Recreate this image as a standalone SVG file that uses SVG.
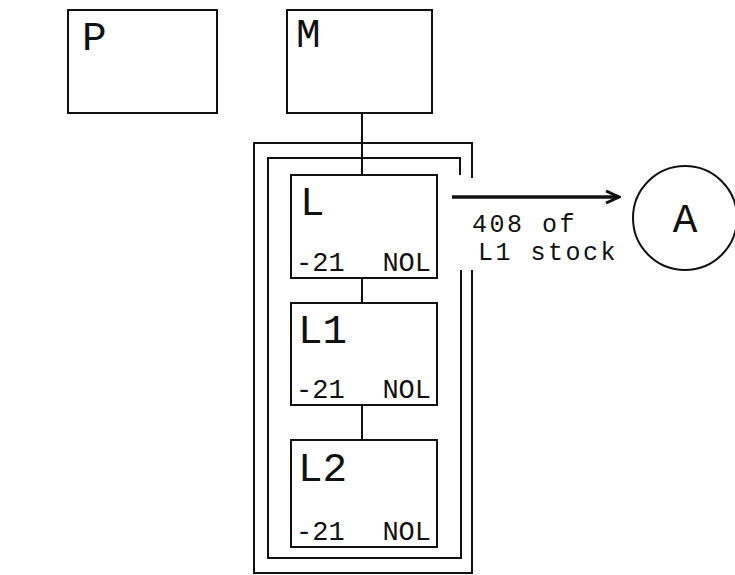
<svg xmlns="http://www.w3.org/2000/svg" width="735" height="575" viewBox="0 0 735 575">
<defs>
<style>
.box{fill:#fff;stroke:#111;stroke-width:2}
.ln{fill:none;stroke:#111;stroke-width:2}
.big{font-family:"Liberation Mono","Courier New",monospace;font-size:41px;fill:#111}
.sm{font-family:"Liberation Mono","Courier New",monospace;font-size:27px;fill:#111}
.lab{font-family:"Liberation Mono","Courier New",monospace;font-size:25px;letter-spacing:2.5px;fill:#111}
</style>
<marker id="ah" markerWidth="16" markerHeight="14" refX="14" refY="7" orient="auto" markerUnits="userSpaceOnUse">
<path d="M1,1 L14,7 L1,13" fill="none" stroke="#111" stroke-width="3"/>
</marker>
</defs>
<rect width="735" height="575" fill="#fff"/>
<g id="connectors">
<line class="ln" x1="362" y1="113" x2="362" y2="175"/>
<line class="ln" x1="362" y1="278" x2="362" y2="303"/>
<line class="ln" x1="362" y1="405" x2="362" y2="440"/>
<path class="ln" d="M472,178 V143 H254 V573 H472 V270"/>
<path class="ln" d="M460,175 V158 H268 V558 H461 V270"/>
<line class="ln" style="stroke-width:3.5" x1="452" y1="197" x2="619" y2="197" marker-end="url(#ah)"/>
</g>
<g id="P"><rect class="box" x="68" y="10" width="149" height="103"/><text class="big" x="82" y="50">P</text></g>
<g id="M"><rect class="box" x="287" y="10" width="145" height="103"/><text class="big" x="296" y="47">M</text></g>
<g id="L"><rect class="box" x="291" y="175" width="146" height="103"/><text class="big" x="300" y="215">L</text><text class="sm" x="296" y="271">-21</text><text class="sm" x="431" y="271" text-anchor="end">NOL</text></g>
<g id="L1"><rect class="box" x="291" y="303" width="146" height="102"/><text class="big" x="298" y="343">L1</text><text class="sm" x="296" y="398">-21</text><text class="sm" x="431" y="398" text-anchor="end">NOL</text></g>
<g id="L2"><rect class="box" x="291" y="440" width="146" height="107"/><text class="big" x="298" y="481">L2</text><text class="sm" x="296" y="540">-21</text><text class="sm" x="431" y="540" text-anchor="end">NOL</text></g>
<g id="label"><text class="lab" x="472" y="232">408 of</text><text class="lab" x="478" y="260">L1 stock</text></g>
<g id="A"><circle class="box" cx="685" cy="218" r="52"/><text class="big" x="685" y="232" text-anchor="middle">A</text></g>
</svg>
